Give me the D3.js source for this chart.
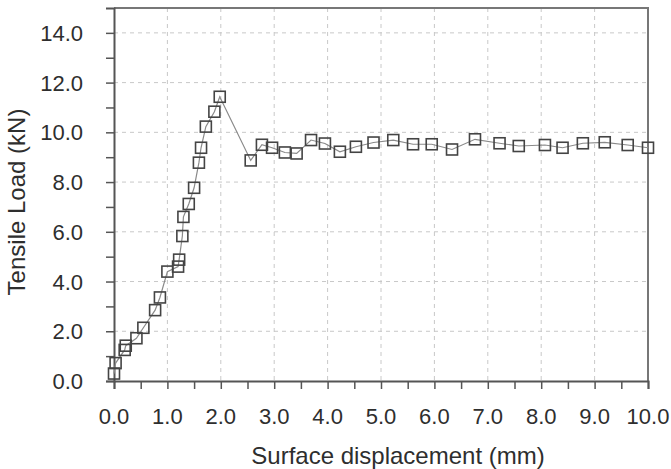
<!DOCTYPE html>
<html>
<head>
<meta charset="utf-8">
<script src="https://cdn.jsdelivr.net/npm/d3@7"></script>
<style>
  body { margin: 0; background: #fff; }
  text { font-family: "Liberation Sans", Arial, sans-serif; fill: #2e2e2e; }
</style>
</head>
<body>
<div class="chart"></div>
<script>
var width = 671, height = 469;

// values
var displacement = [0.0, 0.03, 0.2, 0.22, 0.42, 0.55, 0.77, 0.86, 1.0, 1.2, 1.22, 1.28, 1.3, 1.4, 1.5,
    1.59, 1.63, 1.72, 1.88, 1.98, 2.56, 2.77, 2.96, 3.2, 3.42, 3.69, 3.95, 4.23, 4.53, 4.86,
    5.23, 5.6, 5.95, 6.33, 6.76, 7.22, 7.58, 8.07, 8.4, 8.78, 9.19, 9.62, 10.0];
var load = [0.3, 0.72, 1.25, 1.42, 1.72, 2.14, 2.85, 3.36, 4.4, 4.6, 4.88, 5.83, 6.6, 7.12, 7.77,
    8.78, 9.38, 10.23, 10.83, 11.43, 8.87, 9.5, 9.38, 9.19, 9.15, 9.69, 9.55, 9.22, 9.42, 9.59,
    9.69, 9.52, 9.52, 9.31, 9.72, 9.56, 9.45, 9.49, 9.38, 9.56, 9.6, 9.49, 9.38];
var xTicks = [0, 1, 2, 3, 4, 5, 6, 7, 8, 9, 10];
var yTicks = [0, 2, 4, 6, 8, 10, 12, 14];

var data = displacement.map(function(d, i) { return { x: d, y: load[i] }; });

var margin = { top: 8, right: 23, bottom: 88, left: 114 };
var w = width - margin.left - margin.right;
var h = height - margin.top - margin.bottom;

var svg = d3.select('.chart')
    .append('svg')
    .attr('width', width)
    .attr('height', height)
  .append('g')
    .attr('transform', 'translate(' + margin.left + ',' + margin.top + ')');

var x = d3.scaleLinear().domain([0, 10]).range([0, w]);
var y = d3.scaleLinear().domain([0, 15]).range([h, 0]);

// grid
svg.selectAll('.vgrid')
    .data(xTicks.slice(1, -1))
    .enter().append('line')
    .attr('x1', d => x(d)).attr('x2', d => x(d))
    .attr('y1', 0).attr('y2', h)
    .attr('stroke', '#c8c8c8')
    .attr('stroke-dasharray', '4,4');

svg.selectAll('.hgrid')
    .data(yTicks.slice(1))
    .enter().append('line')
    .attr('x1', 0).attr('x2', w)
    .attr('y1', d => y(d)).attr('y2', d => y(d))
    .attr('stroke', '#c8c8c8')
    .attr('stroke-dasharray', '4,4');

// frame top/right
svg.append('path')
    .attr('d', 'M0,0H' + w + 'V' + h)
    .attr('fill', 'none')
    .attr('stroke', '#777')
    .attr('stroke-width', 2);

// axes
var xAxis = svg.append('g')
    .attr('transform', 'translate(0,' + h + ')')
    .call(d3.axisBottom(x).tickValues(d3.range(0, 10.01, 0.5)).tickSize(8).tickFormat(''));
var yAxis = svg.append('g')
    .call(d3.axisLeft(y).tickValues(d3.range(0, 15, 1)).tickSize(8).tickFormat(''));

[xAxis, yAxis].forEach(function(a) {
    a.select('.domain').attr('stroke', '#555').attr('stroke-width', 2);
    a.selectAll('.tick line').attr('stroke', '#555').attr('stroke-width', 1.5);
});

svg.selectAll('.xlab')
    .data(xTicks)
    .enter().append('text')
    .attr('x', d => x(d))
    .attr('y', h + 43)
    .style('text-anchor', 'middle')
    .style('font-size', '22px')
    .text(d => d.toFixed(1));

svg.selectAll('.ylab')
    .data(yTicks)
    .enter().append('text')
    .attr('x', -31)
    .attr('y', d => y(d) + 8)
    .style('text-anchor', 'end')
    .style('font-size', '22px')
    .text(d => d.toFixed(1));

svg.append('text')
    .attr('x', 284)
    .attr('y', h + 83)
    .style('text-anchor', 'middle')
    .style('font-size', '24px')
    .text('Surface displacement (mm)');

svg.append('text')
    .attr('transform', 'translate(-89,' + 194 + ') rotate(-90)')
    .style('text-anchor', 'middle')
    .style('font-size', '24px')
    .text('Tensile Load (kN)');

// line and markers
var line = d3.line().x(d => x(d.x)).y(d => y(d.y));
svg.append('path')
    .datum(data)
    .attr('d', line)
    .attr('fill', 'none')
    .attr('stroke', '#8a8a8a')
    .attr('stroke-width', 1.2);

svg.selectAll('.pt')
    .data(data)
    .enter().append('rect')
    .attr('x', d => x(d.x) - 5.5)
    .attr('y', d => y(d.y) - 5.5)
    .attr('width', 11)
    .attr('height', 11)
    .attr('fill', 'none')
    .attr('stroke', '#444')
    .attr('stroke-width', 1.6);
</script>
</body>
</html>
